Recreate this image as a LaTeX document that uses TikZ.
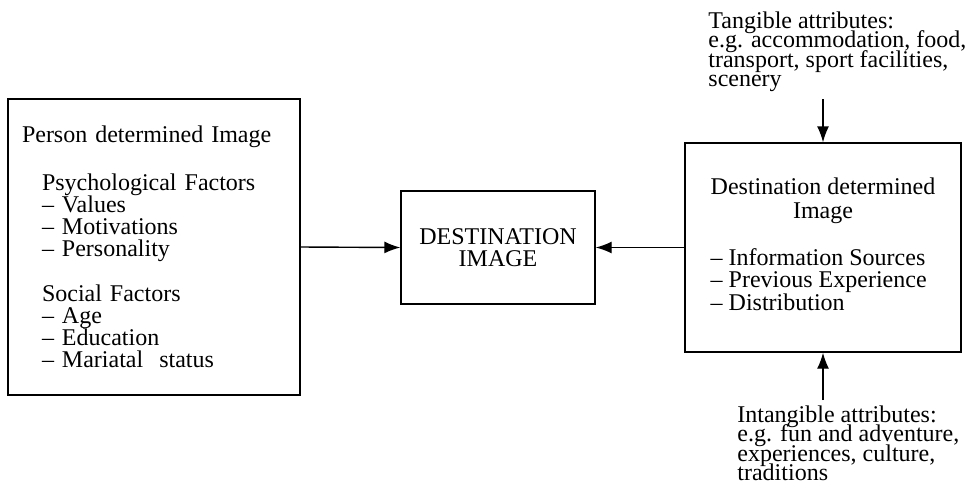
\documentclass[tikz,border=0pt]{standalone}
\usepackage{fontspec}
\setmainfont{Liberation Serif}
\usetikzlibrary{arrows.meta}
\newcommand{\ind}{\hspace*{10pt}}

\begin{document}
\begin{tikzpicture}
[x=0.5pt,y=-0.5pt,
txt/.style={font={\fontsize{12}{11}\selectfont}},
box/.style={draw,line width=.7pt,txt},
attr/.style={align=left,inner sep=0pt,anchor=north west,
  font={\fontsize{12}{9.8}\selectfont\lineskiplimit=-20pt}},
dedge/.style={line width=.7pt,-{Latex[length=8pt,width=6pt]}}]
%%
\useasboundingbox (0,0) rectangle (967,488);
%%%%%%%%%%%%%%%%%%
% person
%%%%%%%%%%%%%%%%%%
\node[box,align=left,text width=132pt,inner xsep=7pt,inner ysep=0pt,
  minimum height=148pt] (person) at (154,247)
  {Person determined Image\\[13pt]
   \ind Psychological Factors\\
   \ind -- Values\\
   \ind -- Motivations\\
   \ind -- Personality\\[11.5pt]
   \ind Social Factors\\
   \ind -- Age\\
   \ind -- Education\\
   \ind -- Mariatal\ \ status};
%%%%%%%%%%%%%%%%%%
% image
%%%%%%%%%%%%%%%%%%
\node[box,align=center,minimum width=97pt,minimum height=56.5pt] (dest) at (498,247.5)
  {DESTINATION\\IMAGE};
%%%%%%%%%%%%%%%%%%
% destination
%%%%%%%%%%%%%%%%%%
\node[box,minimum width=138pt,minimum height=104.5pt] (destd) at (823,247.5)
  {\begin{tabular}{@{}l@{}}
   \multicolumn{1}{@{}c@{}}{Destination determined}\\[1pt]
   \multicolumn{1}{@{}c@{}}{Image}\\[11.5pt]
   -- Information Sources\\
   -- Previous Experience\\
   -- Distribution
   \end{tabular}};
%%
%% attributes
\node[attr] (tang) at (708,11)
  {Tangible attributes:\\
   e.g. accommodation, food,\\
   transport, sport facilities,\\
   scenery};
\node[attr] (intang) at (737,405)
  {Intangible attributes:\\
   e.g. fun and adventure,\\
   experiences, culture,\\
   traditions};
%%
%% edges
\draw[dedge] (person.east) -- (dest.west);
\draw[dedge] (destd.west) -- (dest.east);
\draw[dedge,shorten <=3.5pt] (tang.south -| destd.north) -- (destd.north);
\draw[dedge,shorten <=2.5pt] (intang.north -| destd.south) -- (destd.south);
%%
\end{tikzpicture}
\end{document}
